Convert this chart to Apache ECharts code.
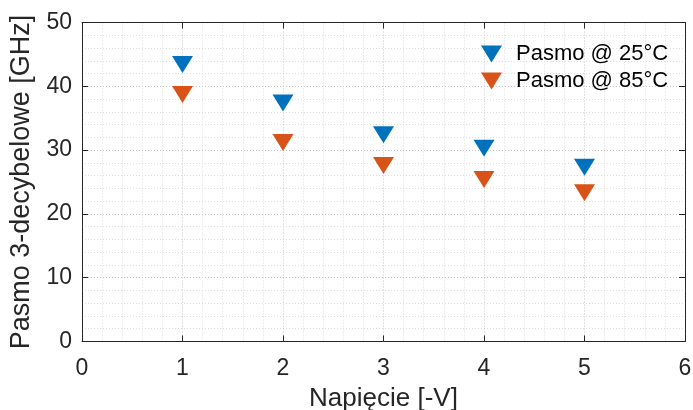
<!DOCTYPE html>
<html>
<head>
<meta charset="utf-8">
<script src="https://cdn.jsdelivr.net/npm/echarts@6/dist/echarts.min.js"></script>
<style>
  html, body { margin: 0; padding: 0; background: #fff; }
  #chart { width: 693px; height: 410px; }
</style>
</head>
<body>
<div id="chart"></div>
<script>
// Bias voltage (reverse, V)
const voltages = [1, 2, 3, 4, 5];
// 3-dB bandwidth (GHz) at two temperatures
const bandwidth25 = [43.4, 37.4, 32.4, 30.3, 27.3];
const bandwidth85 = [38.7, 31.2, 27.6, 25.4, 23.3];
const seriesNames = ['Pasmo @ 25°C', 'Pasmo @ 85°C'];
const seriesColors = ['#0072BD', '#D95319'];

const FONT = '"Liberation Sans", Arial, Helvetica, sans-serif';
const AXIS_COLOR = '#262626';
const TRI_DOWN = 'path://M0,0 L21,0 L10.5,17 Z';

const majorGrid = { show: true, lineStyle: { color: '#c4c4c4', type: [1, 2], width: 1 } };
const minorGrid = { show: true, lineStyle: { color: '#dddddd', type: [1, 2], width: 1 } };

function pairs(xs, ys) { return xs.map((x, i) => [x, ys[i]]); }

const chart = echarts.init(document.getElementById('chart'), null, { renderer: 'canvas' });

const baseX = {
  type: 'value', min: 0, max: 6, interval: 1,
  axisLine: { show: true, onZero: false, lineStyle: { color: AXIS_COLOR, width: 1 } },
  axisTick: { show: true, inside: true, length: 6, lineStyle: { color: AXIS_COLOR } },
  minorTick: { show: false, splitNumber: 5 },
};
const baseY = {
  type: 'value', min: 0, max: 50, interval: 10,
  axisLine: { show: true, onZero: false, lineStyle: { color: AXIS_COLOR, width: 1 } },
  axisTick: { show: true, inside: true, length: 6, lineStyle: { color: AXIS_COLOR } },
  minorTick: { show: false, splitNumber: 5 },
};

chart.setOption({
  animation: false,
  backgroundColor: '#ffffff',
  grid: { left: 82, right: 8, top: 22.5, bottom: 68.5, containLabel: false, outerBoundsMode: 'none' },
  xAxis: [
    Object.assign({}, baseX, {
      position: 'bottom',
      name: 'Napięcie [-V]', nameLocation: 'middle', nameGap: 27,
      nameTextStyle: { fontFamily: FONT, fontSize: 26, color: AXIS_COLOR },
      axisLabel: { show: true, margin: 16, fontFamily: FONT, fontSize: 23, color: AXIS_COLOR },
      splitLine: majorGrid,
      minorSplitLine: minorGrid,
    }),
    Object.assign({}, baseX, {
      position: 'top',
      axisLabel: { show: false },
      splitLine: { show: false },
    })
  ],
  yAxis: [
    Object.assign({}, baseY, {
      position: 'left',
      name: 'Pasmo 3-decybelowe [GHz]', nameLocation: 'middle', nameGap: 43,
      nameTextStyle: { fontFamily: FONT, fontSize: 27, color: AXIS_COLOR },
      axisLabel: { show: true, margin: 10, fontFamily: FONT, fontSize: 23, color: AXIS_COLOR },
      splitLine: majorGrid,
      minorSplitLine: minorGrid,
    }),
    Object.assign({}, baseY, {
      position: 'right',
      axisLabel: { show: false },
      splitLine: { show: false },
    })
  ],
  legend: {
    orient: 'vertical',
    left: 476, top: 38,
    itemWidth: 21, itemHeight: 17, itemGap: 5,
    textStyle: { fontFamily: FONT, fontSize: 22, color: '#000', padding: [0, 0, 0, 9] },
    data: seriesNames.map(n => ({ name: n, icon: TRI_DOWN })),
  },
  series: [
    {
      name: seriesNames[0], type: 'scatter', xAxisIndex: 0, yAxisIndex: 0,
      symbol: TRI_DOWN, symbolSize: [21, 17],
      itemStyle: { color: seriesColors[0], opacity: 1 },
      data: pairs(voltages, bandwidth25),
    },
    {
      name: seriesNames[1], type: 'scatter', xAxisIndex: 0, yAxisIndex: 0,
      symbol: TRI_DOWN, symbolSize: [21, 17],
      itemStyle: { color: seriesColors[1], opacity: 1 },
      data: pairs(voltages, bandwidth85),
    }
  ]
});
</script>
</body>
</html>
